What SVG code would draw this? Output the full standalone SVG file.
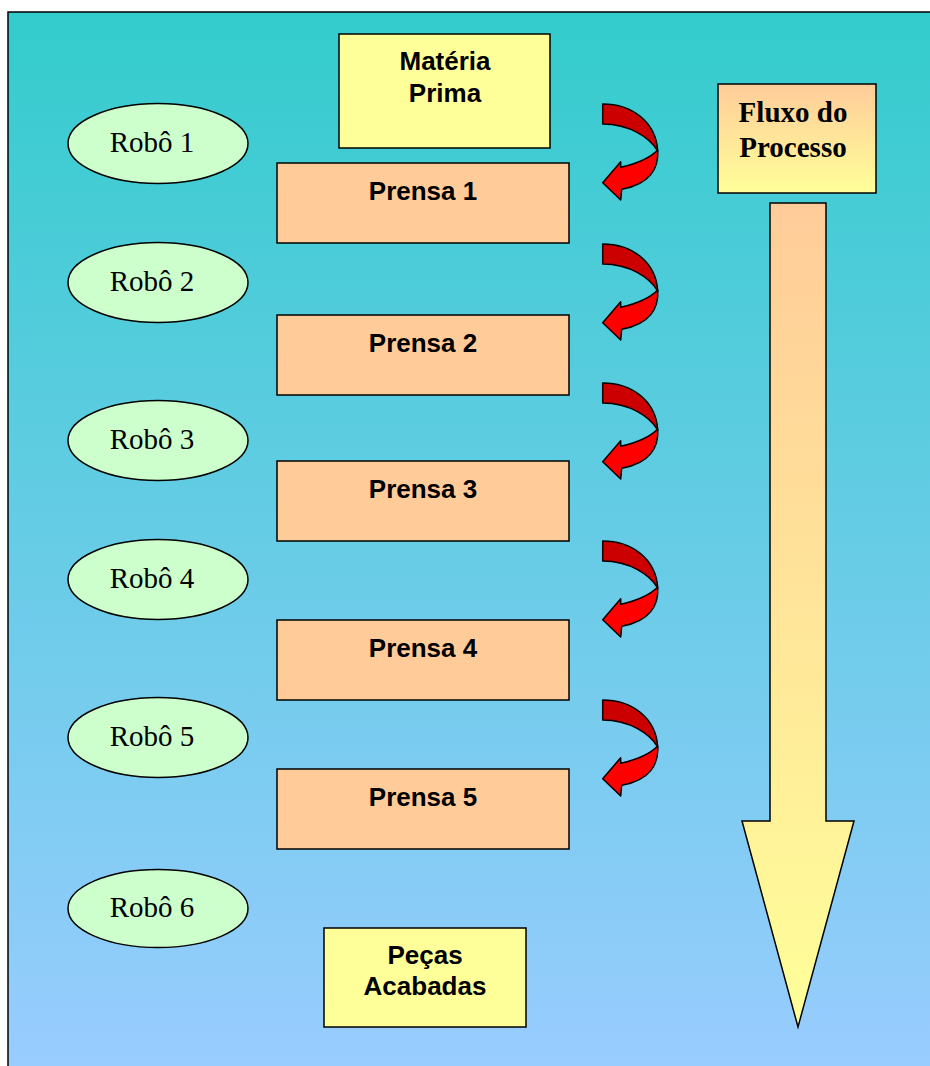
<svg xmlns="http://www.w3.org/2000/svg" width="930" height="1066" viewBox="0 0 930 1066">
  <defs>
    <linearGradient id="bg" x1="0" y1="12" x2="0" y2="1066" gradientUnits="userSpaceOnUse">
      <stop offset="0" stop-color="#33CCCC"/>
      <stop offset="1" stop-color="#99CCFF"/>
    </linearGradient>
    <linearGradient id="peachToYellow" x1="0" y1="0" x2="0" y2="1">
      <stop offset="0" stop-color="#FFCC99"/>
      <stop offset="1" stop-color="#FFFF99"/>
    </linearGradient>
    <linearGradient id="flowArrow" x1="0" y1="203" x2="0" y2="1027" gradientUnits="userSpaceOnUse">
      <stop offset="0" stop-color="#FFCC99"/>
      <stop offset="1" stop-color="#FFFF99"/>
    </linearGradient>
    <!-- curved transfer arrow, local origin at its top-left -->
    <g id="turn">
      <path class="back" d="M2.7,4 C32,4 56,22 57.7,51 C50,38 30,24 2.7,24 Z"/>
      <path class="front" d="M57.7,50 C59,68 50,84 21.7,89.3 L20.7,100 L2.7,82.7 L20.7,61.7 L20.7,67.3 C35,64 50,58 57.7,50 Z"/>
    </g>
  </defs>
  <style>
    .frame { fill: url(#bg); stroke: #000; stroke-width: 1.5; }
    .press rect { fill: #FFCC99; stroke: #000; stroke-width: 1.5; }
    .stock rect { fill: #FFFF99; stroke: #000; stroke-width: 1.5; }
    .robot ellipse { fill: #CCFFCC; stroke: #000; stroke-width: 1.5; }
    .sans { font-family: "Liberation Sans", Arial, sans-serif; font-weight: bold; font-size: 26px; fill: #000; text-anchor: middle; }
    .serif { font-family: "Liberation Serif", "Times New Roman", serif; font-size: 29px; fill: #000; text-anchor: middle; }
    .serifBold { font-family: "Liberation Serif", "Times New Roman", serif; font-weight: bold; font-size: 29px; fill: #000; text-anchor: middle; }
    .back { fill: #CC0000; stroke: #000; stroke-width: 1.5; stroke-linejoin: round; }
    .front { fill: #FF0000; stroke: #000; stroke-width: 1.5; stroke-linejoin: round; }
  </style>

  <!-- background panel -->
  <rect class="frame" x="8" y="12" width="930" height="1070"/>

  <!-- raw material -->
  <g id="materia-prima" class="stock">
    <rect x="339" y="34" width="211" height="114"/>
    <text class="sans" x="445" y="70">Matéria</text>
    <text class="sans" x="445" y="102">Prima</text>
  </g>

  <!-- presses -->
  <g id="prensa-1" class="press">
    <rect x="277" y="163" width="292" height="80"/>
    <text class="sans" x="423" y="200">Prensa 1</text>
  </g>
  <g id="prensa-2" class="press">
    <rect x="277" y="315" width="292" height="80"/>
    <text class="sans" x="423" y="352">Prensa 2</text>
  </g>
  <g id="prensa-3" class="press">
    <rect x="277" y="461" width="292" height="80"/>
    <text class="sans" x="423" y="498">Prensa 3</text>
  </g>
  <g id="prensa-4" class="press">
    <rect x="277" y="620" width="292" height="80"/>
    <text class="sans" x="423" y="657">Prensa 4</text>
  </g>
  <g id="prensa-5" class="press">
    <rect x="277" y="769" width="292" height="80"/>
    <text class="sans" x="423" y="806">Prensa 5</text>
  </g>

  <!-- finished parts -->
  <g id="pecas-acabadas" class="stock">
    <rect x="324" y="928" width="202" height="99"/>
    <text class="sans" x="425" y="964">Peças</text>
    <text class="sans" x="425" y="995">Acabadas</text>
  </g>

  <!-- robots -->
  <g id="robo-1" class="robot">
    <ellipse cx="158" cy="143.5" rx="90" ry="40"/>
    <text class="serif" x="152" y="152">Robô 1</text>
  </g>
  <g id="robo-2" class="robot">
    <ellipse cx="158" cy="282.5" rx="90" ry="40"/>
    <text class="serif" x="152" y="291">Robô 2</text>
  </g>
  <g id="robo-3" class="robot">
    <ellipse cx="158" cy="440.5" rx="90" ry="40"/>
    <text class="serif" x="152" y="449">Robô 3</text>
  </g>
  <g id="robo-4" class="robot">
    <ellipse cx="158" cy="579.5" rx="90" ry="40"/>
    <text class="serif" x="152" y="588">Robô 4</text>
  </g>
  <g id="robo-5" class="robot">
    <ellipse cx="158" cy="737.5" rx="90" ry="40"/>
    <text class="serif" x="152" y="746">Robô 5</text>
  </g>
  <g id="robo-6" class="robot">
    <ellipse cx="158" cy="908.5" rx="90" ry="39"/>
    <text class="serif" x="152" y="917">Robô 6</text>
  </g>

  <!-- process flow legend -->
  <g id="fluxo-processo">
    <rect x="718" y="84" width="158" height="109" fill="url(#peachToYellow)" stroke="#000" stroke-width="1.5"/>
    <text class="serifBold" x="793" y="122">Fluxo do</text>
    <text class="serifBold" x="793" y="157">Processo</text>
  </g>

  <!-- connectors: transfers between stations and the overall flow arrow -->
  <g id="connectors">
    <use href="#turn" x="600" y="100"/>
    <use href="#turn" x="600" y="240"/>
    <use href="#turn" x="600" y="379"/>
    <use href="#turn" x="600" y="537"/>
    <use href="#turn" x="600" y="696"/>
    <path d="M770,203 L826,203 L826,821 L854,821 L798,1027 L742,821 L770,821 Z" fill="url(#flowArrow)" stroke="#000" stroke-width="1.5" stroke-linejoin="miter"/>
  </g>
</svg>
